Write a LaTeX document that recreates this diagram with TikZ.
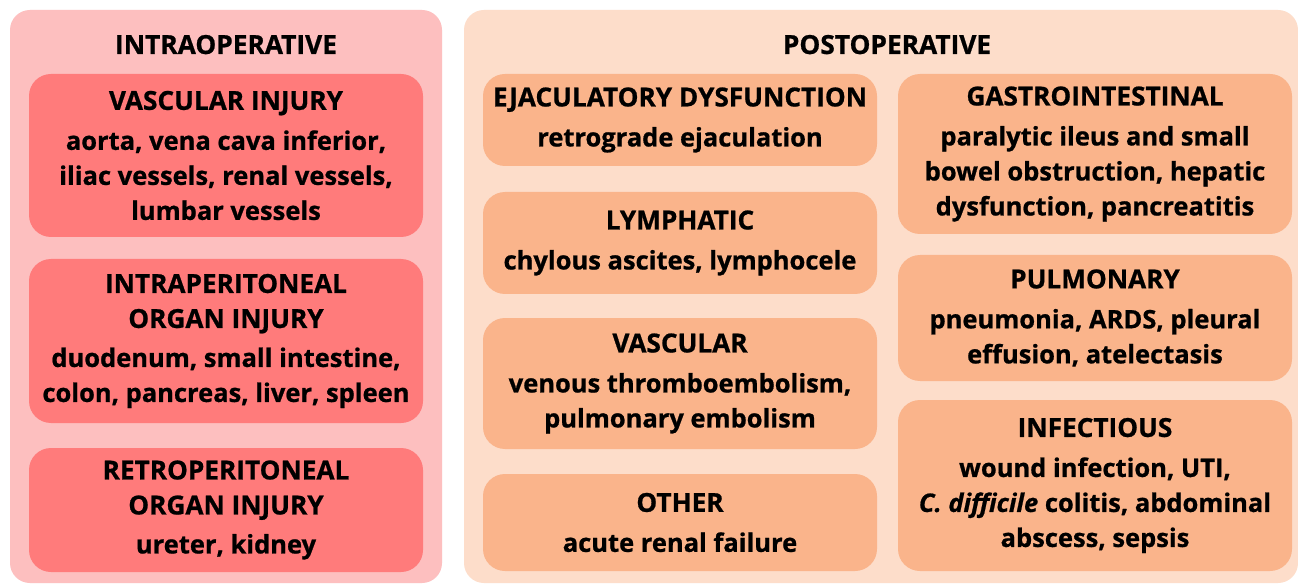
\documentclass[tikz,border=0pt]{standalone}
\usepackage{fontspec}
\setmainfont{Open Sans}[BoldFeatures={FakeBold=0.8}, BoldItalicFeatures={FakeBold=0.8}]
\definecolor{pinkOuter}{HTML}{FDBFBF}
\definecolor{pinkInner}{HTML}{FF7B7B}
\definecolor{peachOuter}{HTML}{FDDDCA}
\definecolor{peachInner}{HTML}{FAB48B}
\newcommand{\hd}[1]{{\fontsize{26.2}{35}\selectfont #1}}
\begin{document}
\begin{tikzpicture}[x=1pt,y=-1pt,
  panel/.style={rounded corners=20pt},
  box/.style={rectangle, rounded corners=22pt, inner sep=0pt, align=center,
    font=\fontsize{25.5}{35}\selectfont\bfseries, text=black},
  redbox/.style={box, fill=pinkInner, minimum width=394pt},
  peachbox/.style={box, fill=peachInner, minimum width=394pt},
  title/.style={font=\fontsize{26.3}{35}\selectfont\bfseries, text=black, anchor=base, inner sep=0pt}]
\useasboundingbox (0,0) rectangle (1298,585);
\fill[white] (0,0) rectangle (1298,585);
\fill[panel, pinkOuter] (10,10) rectangle (442,583);
\fill[panel, peachOuter] (464,10) rectangle (1298,583);
\node[title] (tintra) at (226,54) {INTRAOPERATIVE};
\node[title] (tpost) at (887,54) {POSTOPERATIVE};
% intraoperative
\node[redbox, minimum height=163pt] (vasc) at (226,155.5)
  {\hd{VASCULAR INJURY}\\[5pt]aorta, vena cava inferior,\\iliac vessels, renal vessels,\\lumbar vessels};
\node[redbox, minimum height=164pt] (intra) at (226,341)
  {\hd{INTRAPERITONEAL}\\\hd{ORGAN INJURY}\\[4pt]duodenum, small intestine,\\colon, pancreas, liver, spleen};
\node[redbox, minimum height=124pt] (retro) at (226,510)
  {\hd{RETROPERITONEAL}\\\hd{ORGAN INJURY}\\[4pt]ureter, kidney};
% postoperative column 1
\node[peachbox, minimum height=92pt] (ejac) at (680,120)
  {\hd{EJACULATORY DYSFUNCTION}\\[5pt]retrograde ejaculation};
\node[peachbox, minimum height=102pt] (lymph) at (680,243)
  {\hd{LYMPHATIC}\\[5pt]chylous ascites, lymphocele};
\node[peachbox, minimum height=131pt] (pvasc) at (680,383.5)
  {\hd{VASCULAR}\\[5pt]venous thromboembolism,\\pulmonary embolism};
\node[peachbox, minimum height=97pt] (other) at (680,522.5)
  {\hd{OTHER}\\[5pt]acute renal failure};
% postoperative column 2
\node[peachbox, minimum height=160pt] (gastro) at (1095,154)
  {\hd{GASTROINTESTINAL}\\[5pt]paralytic ileus and small\\bowel obstruction, hepatic\\dysfunction, pancreatitis};
\node[peachbox, minimum height=126pt] (pulm) at (1095,318)
  {\hd{PULMONARY}\\[5pt]pneumonia, ARDS, pleural\\effusion, atelectasis};
\node[peachbox, minimum height=171pt] (infect) at (1095,485.5)
  {\hd{INFECTIOUS}\\[5pt]wound infection, UTI,\\\textit{C. difficile} colitis, abdominal\\abscess, sepsis};
\end{tikzpicture}
\end{document}
